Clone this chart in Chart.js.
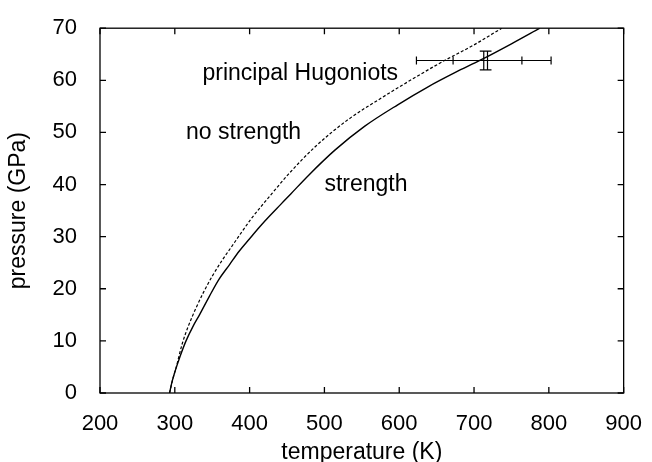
<!DOCTYPE html>
<html>
<head>
<meta charset="utf-8">
<script src="https://cdn.jsdelivr.net/npm/chart.js@4.4.0/dist/chart.umd.min.js"></script>
<style>
body { margin: 0; background: #fff; }
#caixa { width: 652px; height: 462px; }
</style>
</head>
<body>
<div id="caixa"><canvas id="graficoHugoniot"></canvas></div>
<script>
/* Dados */
const tempComResistencia = [293, 296, 300, 307, 315, 324, 333, 346, 359, 373, 386, 400, 413, 427, 441, 455, 479, 514, 554, 598, 638, 675, 709, 750, 788]
const pressaoComResistencia = [0, 2, 4, 7, 10, 12.7, 15, 18.5, 21.8, 24.6, 27.2, 29.6, 31.8, 34.0, 36.1, 38.2, 41.8, 46.6, 51.2, 55.3, 58.7, 61.5, 63.9, 67.0, 70]

const tempSemResistencia = [293, 297, 302, 310, 318, 328, 339, 350, 363, 377, 390, 402, 416, 430, 452, 488, 532, 576, 616, 658, 700, 737]
const pressaoSemResistencia = [0, 2.5, 5, 9.5, 12.8, 16.2, 19.5, 22.4, 25.4, 28.3, 31.0, 33.4, 35.9, 38.3, 42.0, 47.3, 52.5, 56.6, 60.1, 63.6, 66.8, 70]

/* ponto experimental com barras de erro */
const erroTemp = [713, 718]
const erroPressao = [63.8, 63.8]
const erroDeltaTemp = [90, 46]
const erroDeltaPressao = [1.8, 1.8]

const ticksX = [200, 300, 400, 500, 600, 700, 800, 900]
const ticksY = [0, 10, 20, 30, 40, 50, 60, 70]

/* rótulos dentro do gráfico */
const rotulos = [
    { texto: "principal Hugoniots", t: 337, p: 61.2 },
    { texto: "no strength", t: 315, p: 50 },
    { texto: "strength", t: 500, p: 40 }
]

function juntaPontos(xs, ys) {
    return xs.map((x, i) => ({ x: x, y: ys[i] }))
}

const fonte = "'Liberation Sans', Arial, Helvetica, sans-serif"

/* Plugin: moldura, ticks para dentro, barras de erro e textos */
const extras = {
    id: "extras",
    afterDatasetsDraw(chart) {
        const ctx = chart.ctx
        const area = chart.chartArea
        const sx = chart.scales.x
        const sy = chart.scales.y
        ctx.save()
        ctx.strokeStyle = "#000"
        ctx.lineWidth = 1.3
        ctx.strokeRect(area.left, area.top, area.right - area.left, area.bottom - area.top)

        const tam = 6
        ctx.beginPath()
        ticksX.forEach(v => {
            let px = sx.getPixelForValue(v)
            ctx.moveTo(px, area.bottom); ctx.lineTo(px, area.bottom - tam)
            ctx.moveTo(px, area.top); ctx.lineTo(px, area.top + tam)
        })
        ticksY.forEach(v => {
            let py = sy.getPixelForValue(v)
            ctx.moveTo(area.left, py); ctx.lineTo(area.left + tam, py)
            ctx.moveTo(area.right, py); ctx.lineTo(area.right - tam, py)
        })
        ctx.stroke()

        ctx.lineWidth = 1.2
        ctx.beginPath()
        erroTemp.forEach((t, i) => {
            let cx = sx.getPixelForValue(t)
            let cy = sy.getPixelForValue(erroPressao[i])
            let x1 = sx.getPixelForValue(t - erroDeltaTemp[i])
            let x2 = sx.getPixelForValue(t + erroDeltaTemp[i])
            let y1 = sy.getPixelForValue(erroPressao[i] - erroDeltaPressao[i])
            let y2 = sy.getPixelForValue(erroPressao[i] + erroDeltaPressao[i])
            ctx.moveTo(x1, cy); ctx.lineTo(x2, cy)
            ctx.moveTo(x1, cy - 4); ctx.lineTo(x1, cy + 4)
            ctx.moveTo(x2, cy - 4); ctx.lineTo(x2, cy + 4)
            ctx.moveTo(cx, y1); ctx.lineTo(cx, y2)
            ctx.moveTo(cx - 4, y1); ctx.lineTo(cx + 4, y1)
            ctx.moveTo(cx - 4, y2); ctx.lineTo(cx + 4, y2)
        })
        ctx.stroke()

        ctx.fillStyle = "#000"
        ctx.font = "23px " + fonte
        ctx.textAlign = "left"
        ctx.textBaseline = "middle"
        rotulos.forEach(r => {
            ctx.fillText(r.texto, sx.getPixelForValue(r.t), sy.getPixelForValue(r.p))
        })
        ctx.restore()
    }
}

const grafico = document.getElementById("graficoHugoniot")
const graficoHugoniot = new Chart(grafico, {
    type: "scatter",
    data: {
        datasets: [{
            label: "strength",
            data: juntaPontos(tempComResistencia, pressaoComResistencia),
            showLine: true,
            borderColor: "#000",
            borderWidth: 1.4,
            pointRadius: 0,
            cubicInterpolationMode: "monotone"
        }, {
            label: "no strength",
            data: juntaPontos(tempSemResistencia, pressaoSemResistencia),
            showLine: true,
            borderColor: "#000",
            borderWidth: 1.2,
            borderDash: [3, 2],
            pointRadius: 0,
            cubicInterpolationMode: "monotone"
        }]
    },
    options: {
        responsive: true,
        maintainAspectRatio: false,
        animation: false,
        layout: { padding: { top: 21, right: 25, left: 0, bottom: 0 } },
        plugins: {
            legend: { display: false },
            tooltip: { enabled: false }
        },
        scales: {
            x: {
                type: "linear",
                min: 200,
                max: 900,
                afterFit: s => { s.height = 69 },
                afterBuildTicks: s => { s.ticks = ticksX.map(v => ({ value: v })) },
                grid: { display: false },
                border: { display: false },
                ticks: { color: "#000", padding: 10, font: { size: 22, family: fonte } },
                title: { display: true, text: "temperature (K)", color: "#000", padding: { top: 0, bottom: -4 }, font: { size: 23, family: fonte, lineHeight: 1.15 } }
            },
            y: {
                type: "linear",
                min: 0,
                max: 70,
                afterFit: s => { s.width = 100 },
                afterBuildTicks: s => { s.ticks = ticksY.map(v => ({ value: v })) },
                grid: { display: false },
                border: { display: false },
                ticks: { color: "#000", padding: 15, font: { size: 22, family: fonte } },
                title: { display: true, text: "pressure (GPa)", color: "#000", padding: { top: 5, bottom: 0 }, font: { size: 23, family: fonte, lineHeight: 1.15 } }
            }
        }
    },
    plugins: [extras]
})
</script>
</body>
</html>
